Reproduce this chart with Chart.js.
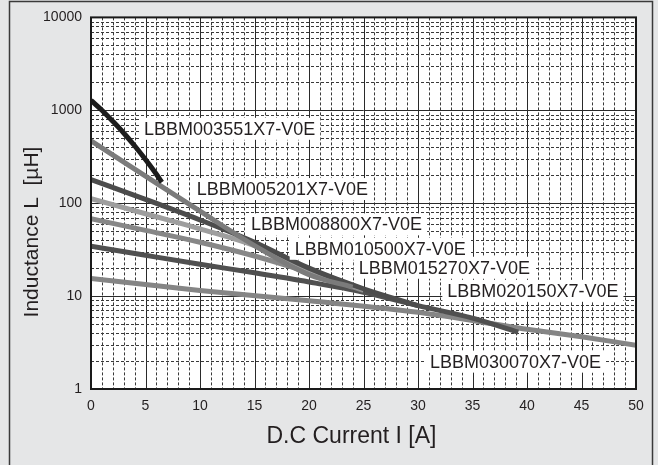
<!DOCTYPE html>
<html><head><meta charset="utf-8">
<script src="https://cdn.jsdelivr.net/npm/chart.js@4.4.0/dist/chart.umd.min.js"></script>
<style>
html,body{margin:0;padding:0;background:#e5e6e7;overflow:hidden}
#wrap{position:relative;width:658px;height:465px}
</style></head>
<body><div id="wrap"><canvas id="c" width="658" height="465"></canvas></div>
<script>
// ---- data ----
const xTicks = [0, 5, 10, 15, 20, 25, 30, 35, 40, 45, 50];
const yTicks = [1, 10, 100, 1000, 10000];
const partNames = ['LBBM003551X7-V0E','LBBM005201X7-V0E','LBBM008800X7-V0E','LBBM010500X7-V0E','LBBM015270X7-V0E','LBBM020150X7-V0E','LBBM030070X7-V0E'];

const current0035 = [0, 1, 2, 3, 4, 5, 6, 6.5];
const induct0035  = [1280, 1000, 760, 570, 415, 295, 205, 168];
const current0052 = [0, 5, 10, 15, 20, 24];
const induct0052  = [470, 196, 82, 35, 17, 12.5];
const current0088 = [0, 5, 10, 15, 20, 25, 30];
const induct0088  = [180, 110, 66, 38, 20, 12, 7.9];
const current0105 = [0, 5, 10, 15, 20, 25];
const induct0105  = [112, 77, 53, 35, 19.5, 11.8];
const current0152 = [0, 5, 10, 15, 20, 25];
const induct0152  = [68, 51, 38, 27, 18, 11.5];
const current0201 = [0, 5, 10, 15, 20, 25, 30, 35, 39.2];
const induct0201  = [34.5, 27.5, 22, 17.8, 14.2, 11, 7.9, 5.8, 4.1];
const current0300 = [0, 10, 20, 30, 40, 45, 50];
const induct0300  = [15.5, 11.5, 8.9, 6.7, 4.4, 3.65, 2.96];

const seriesX = [current0035, current0052, current0088, current0105, current0152, current0201, current0300];
const seriesY = [induct0035, induct0052, induct0088, induct0105, induct0152, induct0201, induct0300];

// ---- styles / annotation anchors (data coordinates) ----
const seriesColors = ['#1c1c1c', '#7b7b7b', '#4c4c4c', '#9e9e9e', '#878787', '#505050', '#858585'];
const labelAnchors = [[4.87, 632], [9.71, 142], [14.68, 59.2], [18.69, 32.3], [24.57, 20.2], [32.69, 11.4], [31.09, 1.97]];

const FONT = '"Liberation Sans", Arial, Helvetica, sans-serif';

const datasets = seriesX.map((xs, i) => ({
  label: partNames[i],
  data: xs.map((x, j) => ({x: x, y: seriesY[i][j]})),
  borderColor: seriesColors[i],
  borderWidth: 5,
  pointRadius: 0,
  fill: false,
  cubicInterpolationMode: 'monotone',
  borderCapStyle: 'butt',
  borderJoinStyle: 'round'
}));

const framePlugin = {
  id: 'frame',
  beforeDraw(chart) {
    const {ctx, chartArea: a, width, height} = chart;
    ctx.save();
    ctx.fillStyle = '#e5e6e7';
    ctx.fillRect(0, 0, width, height);
    ctx.strokeStyle = '#3a3a3a';
    ctx.lineWidth = 1.5;
    ctx.strokeRect(9.5, 1.5, 643, height + 10);
    ctx.fillStyle = '#ffffff';
    ctx.fillRect(a.left, a.top, a.right - a.left, a.bottom - a.top);
    ctx.restore();
  },
  beforeDatasetsDraw(chart) {
    const {ctx, chartArea: a, scales: {x, y}} = chart;
    ctx.save();
    ctx.beginPath();
    ctx.rect(a.left, a.top, a.right - a.left, a.bottom - a.top);
    ctx.clip();
    ctx.lineWidth = 1;
    // vertical
    for (let i = 0; i <= 50; i++) {
      const px = Math.round(x.getPixelForValue(i)) + 0.5;
      ctx.beginPath();
      if (i % 5 === 0) { ctx.setLineDash([]); ctx.strokeStyle = '#2a2a2a'; }
      else { ctx.setLineDash([3, 2]); ctx.strokeStyle = '#3a3a3a'; }
      ctx.moveTo(px, a.top); ctx.lineTo(px, a.bottom); ctx.stroke();
    }
    // horizontal
    for (let d = 1; d <= 1000; d *= 10) {
      for (let m = 1; m <= 9; m++) {
        const py = Math.round(y.getPixelForValue(d * m)) + 0.5;
        ctx.beginPath();
        if (m === 1) { ctx.setLineDash([]); ctx.strokeStyle = '#2a2a2a'; }
        else { ctx.setLineDash([3, 2]); ctx.strokeStyle = '#3a3a3a'; }
        ctx.moveTo(a.left, py); ctx.lineTo(a.right, py); ctx.stroke();
      }
    }
    ctx.restore();
  },
  afterDatasetsDraw(chart) {
    const {ctx, chartArea: a, scales: {x, y}} = chart;
    ctx.save();
    // labels
    ctx.font = '18px ' + FONT;
    ctx.textBaseline = 'middle';
    ctx.textAlign = 'left';
    partNames.forEach((t, i) => {
      const px = x.getPixelForValue(labelAnchors[i][0]);
      const py = y.getPixelForValue(labelAnchors[i][1]);
      const w = ctx.measureText(t).width;
      ctx.fillStyle = '#ffffff';
      ctx.fillRect(px - 5, py - 11, w + 10, 22);
      ctx.fillStyle = '#231f20';
      ctx.fillText(t, px, py + 1);
    });
    // plot border
    ctx.strokeStyle = '#1a1a1a';
    ctx.lineWidth = 2;
    ctx.setLineDash([]);
    ctx.strokeRect(a.left, a.top, a.right - a.left, a.bottom - a.top);
    // axis titles
    ctx.fillStyle = '#231f20';
    ctx.textAlign = 'center';
    ctx.textBaseline = 'middle';
    ctx.font = '23px ' + FONT;
    ctx.fillText('D.C Current I [A]', 351.5, 437);
    ctx.translate(32, 232);
    ctx.rotate(-Math.PI / 2);
    ctx.font = '21px ' + FONT;
    ctx.fillText('Inductance L  [\u00b5H]', 0, 0);
    ctx.restore();
  }
};

new Chart(document.getElementById('c'), {
  type: 'line',
  data: {datasets},
  options: {
    responsive: false,
    animation: false,
    devicePixelRatio: 1,
    layout: {padding: {left: 0, right: 22, top: 13, bottom: 0}},
    plugins: {legend: {display: false}, tooltip: {enabled: false}, title: {display: false}},
    scales: {
      x: {
        type: 'linear', min: 0, max: 50,
        afterBuildTicks: s => { s.ticks = xTicks.map(v => ({value: v})); },
        afterFit: s => { s.height = 76; },
        grid: {display: false, drawTicks: false},
        border: {display: false},
        ticks: {autoSkip: false, maxRotation: 0, padding: 9, color: '#231f20', font: {size: 14, family: FONT}, callback: v => String(v)}
      },
      y: {
        type: 'logarithmic', min: 1, max: 10000,
        afterBuildTicks: s => { s.ticks = yTicks.map(v => ({value: v})); },
        afterFit: s => { s.width = 91; },
        grid: {display: false, drawTicks: false},
        border: {display: false},
        ticks: {autoSkip: false, padding: 9, color: '#231f20', font: {size: 14, family: FONT}, callback: v => String(v)}
      }
    }
  },
  plugins: [framePlugin]
});
</script>
</body></html>
